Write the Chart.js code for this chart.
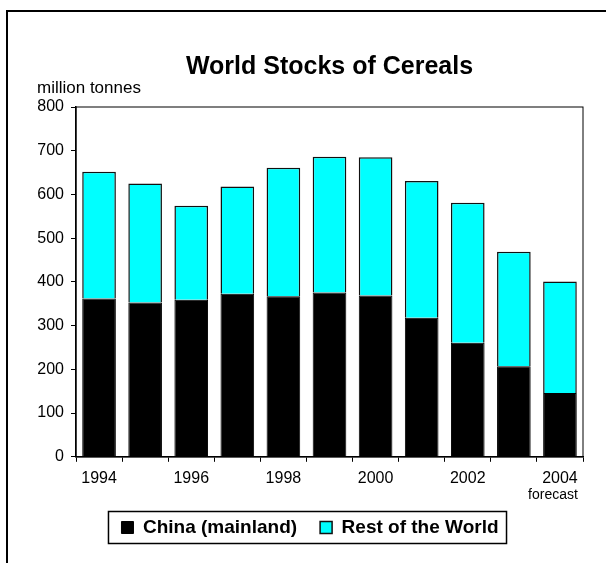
<!doctype html>
<html lang="en">
  <head>
    <meta charset="utf-8">
    <title>World Stocks of Cereals</title>
    <style>
      body { margin: 0; overflow: hidden; background: #fff; }
      #frame { position: absolute; left: 6px; top: 10px; width: 700px; height: 700px; border: 2px solid #000; pointer-events: none; }
      #stocksChart { position: absolute; left: 0; top: 0; }
    </style>
  </head>
  <body>
    <canvas id="stocksChart" width="606" height="563"></canvas>
    <div id="frame"></div>

    <script src="https://cdn.jsdelivr.net/npm/chart.js"></script>
    <script>
      // values, million tonnes
      const years = ['1994', '1995', '1996', '1997', '1998', '1999', '2000', '2001', '2002', '2003', '2004'];
      const china = [362, 353, 359, 373, 367, 376, 369, 318, 261, 207, 146];
      const restOfWorld = [290, 272, 215, 245, 294, 310, 316, 313, 320, 262, 255];
      const yTicks = [0, 100, 200, 300, 400, 500, 600, 700, 800];

      const fontFamily = '"Liberation Sans", Arial, sans-serif';

      // box round the plot, "forecast" under 2004 and the frame round the legend
      const extras = {
        id: 'extras',
        beforeDatasetsDraw(chart) {
          const a = chart.chartArea;
          const ctx = chart.ctx;
          ctx.save();
          ctx.strokeStyle = '#000';
          ctx.lineWidth = 1;
          ctx.strokeRect(a.left, a.top, a.right - a.left, a.bottom - a.top);
          ctx.restore();
        },
        afterDraw(chart) {
          const ctx = chart.ctx;
          const x = chart.scales.x;
          ctx.save();
          ctx.fillStyle = '#000';
          ctx.font = '14px ' + fontFamily;
          ctx.textAlign = 'center';
          ctx.textBaseline = 'middle';
          ctx.fillText('forecast', x.getPixelForValue(years.length - 1) - 7, chart.chartArea.bottom + 38);

          const boxes = chart.legend.legendHitBoxes;
          if (boxes.length) {
            const first = boxes[0];
            const last = boxes[boxes.length - 1];
            const cy = first.top + first.height / 2;
            const left = first.left - 13;
            const right = last.left + last.width + 8;
            ctx.strokeStyle = '#000';
            ctx.lineWidth = 1.5;
            ctx.strokeRect(left, cy - 16, right - left, 32);
          }
          ctx.restore();
        }
      };

      const data = {
        labels: years,
        datasets: [{
          label: 'China (mainland)',
          backgroundColor: '#000000',
          borderColor: '#000000',
          borderWidth: 1,
          data: china,
        },
        {
          label: 'Rest of the World',
          backgroundColor: '#00FFFF',
          borderColor: '#111111',
          borderWidth: 1.5,
          data: restOfWorld,
        }]
      };

      const config = {
        type: 'bar',
        data: data,
        plugins: [extras],
        options: {
          responsive: false,
          animation: false,
          devicePixelRatio: 1,
          layout: { padding: { top: 55, left: 37, right: 23, bottom: 16 } },
          datasets: {
            bar: { categoryPercentage: 1, barPercentage: 0.73 }
          },
          scales: {
            x: {
              stacked: true,
              offset: true,
              border: { display: true, color: '#000', width: 1.5 },
              grid: { offset: true, drawOnChartArea: false, drawTicks: true, tickLength: 5, color: '#000' },
              ticks: {
                autoSkip: false,
                maxRotation: 0,
                padding: 7,
                color: '#000',
                font: { family: fontFamily, size: 16 },
                callback: function(value, index) {
                  return index % 2 === 0 ? years[index] : '';
                }
              }
            },
            y: {
              stacked: true,
              min: 0,
              max: 800,
              afterBuildTicks: function(scale) {
                scale.ticks = yTicks.map(v => ({ value: v }));
              },
              afterFit: function(scale) {
                scale.width = 39;
              },
              border: { display: true, color: '#000', width: 1.5 },
              grid: { drawOnChartArea: false, drawTicks: true, tickLength: 5, color: '#000' },
              ticks: {
                padding: 7,
                color: '#000',
                font: { family: fontFamily, size: 16 }
              }
            }
          },
          plugins: {
            title: {
              display: true,
              text: 'World Stocks of Cereals',
              fullSize: false,
              color: '#000',
              padding: 0,
              font: { family: fontFamily, size: 25, weight: 'bold', lineHeight: 1 }
            },
            subtitle: {
              display: true,
              text: 'million tonnes',
              align: 'start',
              color: '#000',
              padding: { top: 0, bottom: 10 },
              font: { family: fontFamily, size: 17, lineHeight: 1 }
            },
            legend: {
              position: 'bottom',
              fullSize: true,
              labels: {
                boxWidth: 12,
                boxHeight: 12,
                padding: 23,
                color: '#000',
                font: { family: fontFamily, size: 19, weight: 'bold' }
              }
            },
            tooltip: { enabled: false }
          }
        }
      };

      const stocksChart = new Chart(document.getElementById('stocksChart'), config);
    </script>
  </body>
</html>
